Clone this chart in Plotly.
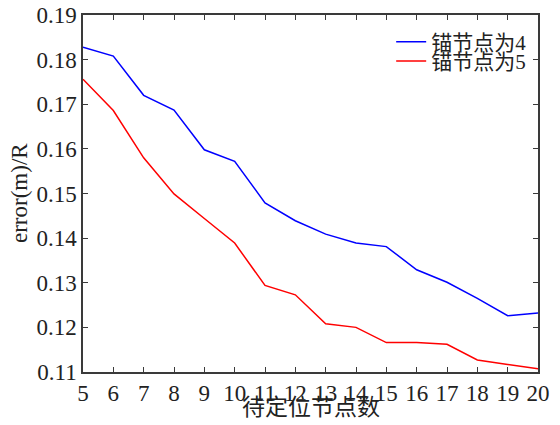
import plotly.graph_objects as go

x_nodes = list(range(5, 21))
anchor4 = [0.1828, 0.1808, 0.1720, 0.1687, 0.1598, 0.1572, 0.1479, 0.1439,
           0.1409, 0.1389, 0.1381, 0.1329, 0.1301, 0.1265, 0.1226, 0.1232]
anchor5 = [0.1756, 0.1686, 0.1580, 0.1499, 0.1444, 0.1389, 0.1294, 0.1273,
           0.1208, 0.1200, 0.1166, 0.1166, 0.1162, 0.1127, 0.1117, 0.1107]
y_ticks = [0.11, 0.12, 0.13, 0.14, 0.15, 0.16, 0.17, 0.18, 0.19]
y_ticklabels = ["0.11", "0.12", "0.13", "0.14", "0.15", "0.16", "0.17", "0.18", "0.19"]
x_title = "待定位节点数"
y_title = "error(m)/R"

FONT = "Liberation Serif, Times New Roman, Noto Sans CJK SC, serif"
AX = "#3a3a3a"
TXT = "#222222"
FS = 23

fig = go.Figure()
fig.add_trace(go.Scatter(x=x_nodes, y=anchor4, mode="lines", name="锚节点为4",
                         line=dict(color="#0000ff", width=1.5), legend="legend"))
fig.add_trace(go.Scatter(x=x_nodes, y=anchor5, mode="lines", name="锚节点为5",
                         line=dict(color="#ff0000", width=1.5), legend="legend2"))

leg_common = dict(xanchor="right", x=0.985, yanchor="middle",
                  bgcolor="rgba(0,0,0,0)", borderwidth=0,
                  font=dict(family=FONT, size=21, color=TXT))

fig.update_layout(
    width=560, height=425,
    margin=dict(l=82.5, r=22, t=14.5, b=53.3),
    paper_bgcolor="white", plot_bgcolor="white",
    font=dict(family=FONT, size=FS, color=TXT),
    showlegend=True,
    legend=dict(y=0.924, **leg_common),
    legend2=dict(y=0.870, **leg_common),
    annotations=[
        dict(text=x_title, xref="paper", yref="paper", x=0.5, y=0,
             xanchor="center", yanchor="middle", yshift=-35.5, showarrow=False,
             font=dict(family=FONT, size=FS, color=TXT)),
        dict(text=y_title, xref="paper", yref="paper", x=0, y=0.5,
             xanchor="center", yanchor="middle", xshift=-63.5, textangle=-90,
             showarrow=False, font=dict(family=FONT, size=FS, color=TXT)),
    ],
)
fig.update_xaxes(
    range=[5, 20], tickmode="array", tickvals=x_nodes,
    ticks="inside", ticklen=5, tickcolor=AX, tickwidth=1,
    showline=True, linecolor=AX, linewidth=1.5, mirror="ticks",
    showgrid=False, zeroline=False, ticklabeloverflow="allow",
    tickfont=dict(family=FONT, size=FS, color=TXT),
    automargin=False,
)
fig.update_yaxes(
    range=[0.11, 0.19], tickmode="array", tickvals=y_ticks, ticktext=y_ticklabels,
    ticks="inside", ticklen=5, tickcolor=AX, tickwidth=1,
    showline=True, linecolor=AX, linewidth=1.5, mirror="ticks",
    showgrid=False, zeroline=False, ticklabeloverflow="allow",
    tickfont=dict(family=FONT, size=FS, color=TXT),
    automargin=False,
)

# remove the default 8px page margin so the figure sits at the window's origin
fig.write_html("out.html", config={"displayModeBar": False},
               post_script="document.body.style.margin='0';document.body.style.padding='0';")
